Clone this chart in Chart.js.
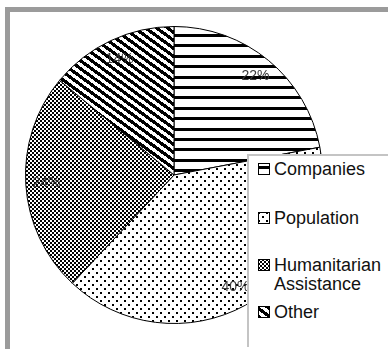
<!DOCTYPE html>
<html>
<head>
<meta charset="utf-8">
<script src="https://cdn.jsdelivr.net/npm/chart.js@4.4.0/dist/chart.umd.min.js"></script>
<style>
  html, body { margin: 0; padding: 0; background: #fff; overflow: hidden; }
  body { width: 388px; height: 349px; position: relative; font-family: "Liberation Sans", Arial, sans-serif; }
  .frame {
    position: absolute; left: 5px; top: 7px; width: 383px; height: 338px;
    border-top: 5px solid #9b9b9b; border-left: 5px solid #9b9b9b; border-bottom: 2px solid #ababab;
    background: #fff;
  }
  .wrap { position: absolute; left: 0; top: 0; width: 388px; height: 349px; }
  .legend {
    position: absolute; left: 247px; top: 154px; width: 141px; height: 191px;
    border-left: 2px solid #c4c4c4; border-top: 2px solid #c4c4c4; background: #fff;
  }
  .item { position: absolute; left: 274px; font-size: 18px; line-height: 18px; color: #111; white-space: nowrap; }
  .icon { position: absolute; left: 258px; }
</style>
</head>
<body>
<div class="frame"></div>
<div class="wrap"><canvas id="pie"></canvas></div>
<div class="legend"></div>
<div id="legendItems"></div>

<script>
const categories = ["Companies", "Population", "Humanitarian Assistance", "Other"];
const legendLines = [["Companies"], ["Population"], ["Humanitarian", "Assistance"], ["Other"]];
const shares = [22, 40, 24, 14];

// monochrome fill patterns, one per slice
function makePattern(w, h, isInk) {
  const c = document.createElement("canvas");
  c.width = w; c.height = h;
  const g = c.getContext("2d");
  const img = g.createImageData(w, h);
  for (let y = 0; y < h; y++) {
    for (let x = 0; x < w; x++) {
      const v = isInk(x, y) ? 0 : 255;
      const k = (y * w + x) * 4;
      img.data[k] = img.data[k + 1] = img.data[k + 2] = v;
      img.data[k + 3] = 255;
    }
  }
  g.putImageData(img, 0, 0);
  return c;
}

const tiles = [
  // horizontal bars, ~10.4px apart
  makePattern(8, 52, (x, y) => [3, 13, 24, 34, 44].some((t) => y >= t && y < t + 3)),
  // staggered dots
  makePattern(8, 8, (x, y) => (x < 2 && y < 2) || (x >= 4 && x < 6 && y >= 4 && y < 6)),
  // fine checkerboard
  makePattern(4, 4, (x, y) => ((x >> 1) + (y >> 1)) % 2 === 0),
  // thick diagonal stripes falling to the right
  makePattern(11, 8, (x, y) => {
    const f = (y / 8 - x / 11) % 1;
    return (f < 0 ? f + 1 : f) < 0.5;
  }),
];

const ctx0 = document.getElementById("pie").getContext("2d");
const fills = tiles.map((t) => ctx0.createPattern(t, "repeat"));

// percentage labels drawn inside each slice
const sliceLabels = {
  id: "sliceLabels",
  afterDatasetsDraw(chart) {
    const ctx = chart.ctx;
    const meta = chart.getDatasetMeta(0);
    ctx.save();
    ctx.font = "14px 'Liberation Sans', Arial, sans-serif";
    ctx.fillStyle = "#3a3a3a";
    ctx.textAlign = "center";
    ctx.textBaseline = "middle";
    meta.data.forEach((arc, i) => {
      const p = arc.getProps(["x", "y", "startAngle", "endAngle", "outerRadius"], true);
      const mid = (p.startAngle + p.endAngle) / 2;
      const r = p.outerRadius * 0.86;
      ctx.fillText(shares[i] + "%", p.x + Math.cos(mid) * r, p.y + Math.sin(mid) * r);
    });
    ctx.restore();
  },
};

new Chart(ctx0, {
  type: "pie",
  data: {
    labels: categories,
    datasets: [{
      data: shares,
      backgroundColor: fills,
      borderColor: "#000",
      borderWidth: 1,
    }],
  },
  options: {
    responsive: true,
    maintainAspectRatio: false,
    animation: false,
    layout: { padding: { left: 25, top: 26, right: 65, bottom: 25 } },
    plugins: { legend: { display: false }, tooltip: { enabled: false } },
  },
  plugins: [sliceLabels],
});

// legend entries with small pattern swatches
const itemTops = [160, 209, 256, 303];
const holder = document.getElementById("legendItems");
legendLines.forEach((lines, i) => {
  const icon = document.createElement("canvas");
  icon.width = 12; icon.height = 12;
  icon.className = "icon";
  icon.style.top = itemTops[i] + 3 + "px";
  const g = icon.getContext("2d");
  g.fillStyle = g.createPattern(tiles[i], "repeat");
  g.fillRect(0, 0, 12, 12);
  g.strokeStyle = "#000";
  g.lineWidth = 1;
  g.strokeRect(0.5, 0.5, 11, 11);
  holder.appendChild(icon);

  lines.forEach((txt, j) => {
    const d = document.createElement("div");
    d.className = "item";
    d.style.top = itemTops[i] + j * 19 + "px";
    d.textContent = txt;
    holder.appendChild(d);
  });
});
</script>
</body>
</html>
